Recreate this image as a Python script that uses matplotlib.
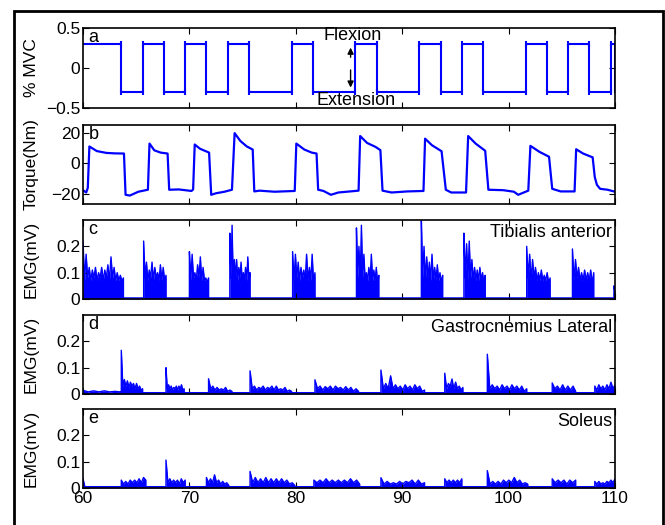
import numpy as np
import matplotlib
matplotlib.use("Agg")
import matplotlib.pyplot as plt
from matplotlib.patches import Rectangle

plt.rcParams['font.family'] = ['Liberation Sans', 'DejaVu Sans']

# --- target (% MVC): switching times, starts at +0.3 ---
target_level = 0.3
target_switch = [63.6, 65.6, 67.6, 69.6, 71.6, 73.6, 75.6, 79.6, 81.6, 85.6,
                 87.6, 91.6, 93.6, 95.6, 97.6, 101.6, 103.6, 105.6, 107.6, 109.6]

# --- torque trace (vertices) ---
torque_t = [60.0, 60.3, 60.45, 60.6, 61.3, 62.2, 63.0, 63.85, 64.0, 64.4, 65.2, 66.1,
            66.25, 66.7, 67.3, 67.95, 68.1, 69.0, 70.2, 70.35, 70.5, 71.0, 71.85, 72.05,
            72.5, 73.3, 74.0, 74.25, 74.8, 75.4, 75.95, 76.1, 76.6, 78.0, 79.9, 80.05,
            80.8, 81.5, 81.95, 82.1, 82.6, 83.3, 84.0, 85.9, 86.05, 86.7, 87.5, 87.95,
            88.15, 89.0, 90.5, 92.0, 92.15, 92.8, 93.7, 94.1, 94.6, 96.0, 96.2, 96.9,
            97.8, 98.1, 99.5, 100.5, 100.9, 101.85, 102.05, 102.9, 103.8, 104.1, 104.9,
            106.2, 106.35, 107.0, 107.9, 108.1, 108.3, 108.6, 109.3, 110.0]
torque_v = [-17.5, -19, -16, 11, 8, 6.8, 6.5, 6.4, -20.5, -21, -18.5, -17.2,
            12.9, 8.5, 7.0, 6.4, -17.2, -17, -18, -17, 12.3, 9.5, 7, -20.5,
            -19.5, -18.5, -17.2, 19.7, 14.5, 11, 9.0, -18.3, -17.8, -18.5, -18, 12.9,
            9.0, 7.0, 6.4, -17.2, -18, -20.5, -19, -17.8, 17.8, 13.3, 10.7, 8.6,
            -17.8, -19, -18.3, -18, 16.1, 11.8, 7.9, -17.2, -19, -19, 17.8, 12.9,
            8.2, -17.2, -17.5, -18.5, -20.5, -17.8, 11.4, 7.5, 4.3, -16.6, -18.3,
            -18.3, 9.2, 6.4, 3.9, -9, -14, -16.6, -17.2, -18.5]

# --- EMG: tibialis anterior bursts (start, end) and spike heights (mV) ---
ta_rest = 0.004
ta_bursts = [(60.0, 63.8), (65.7, 67.8), (70.0, 71.8), (73.8, 75.7), (79.7, 81.8),
             (85.7, 87.8), (91.8, 93.8), (95.8, 97.8), (101.7, 103.9), (106.0, 108.0),
             (109.9, 110.0)]
ta_heights = [
    [0.22, 0.07, 0.17, 0.08, 0.12, 0.07, 0.11, 0.08, 0.12, 0.07, 0.10, 0.08, 0.12, 0.07,
     0.11, 0.08, 0.13, 0.07, 0.16, 0.08, 0.12, 0.07, 0.10, 0.07, 0.09, 0.07, 0.08],
    [0.22, 0.08, 0.14, 0.07, 0.11, 0.08, 0.14, 0.07, 0.12, 0.08, 0.10, 0.07, 0.13, 0.07,
     0.12, 0.07, 0.09],
    [0.18, 0.07, 0.17, 0.08, 0.10, 0.07, 0.13, 0.08, 0.16, 0.07, 0.12, 0.07, 0.08, 0.06, 0.08],
    [0.25, 0.08, 0.28, 0.07, 0.15, 0.08, 0.15, 0.07, 0.12, 0.08, 0.14, 0.07, 0.10, 0.07,
     0.12, 0.07, 0.16, 0.07, 0.10],
    [0.18, 0.07, 0.17, 0.08, 0.14, 0.07, 0.12, 0.08, 0.11, 0.07, 0.17, 0.07, 0.12, 0.07,
     0.17, 0.06, 0.10],
    [0.27, 0.08, 0.20, 0.07, 0.28, 0.08, 0.17, 0.07, 0.10, 0.07, 0.12, 0.07, 0.17, 0.07,
     0.11, 0.07, 0.12, 0.06, 0.09],
    [0.30, 0.08, 0.20, 0.07, 0.16, 0.08, 0.14, 0.07, 0.17, 0.07, 0.12, 0.07, 0.13, 0.07,
     0.10, 0.06, 0.09],
    [0.25, 0.08, 0.21, 0.07, 0.22, 0.08, 0.15, 0.07, 0.12, 0.07, 0.11, 0.07, 0.12, 0.07,
     0.10, 0.06, 0.09],
    [0.20, 0.08, 0.17, 0.07, 0.15, 0.08, 0.12, 0.07, 0.10, 0.07, 0.11, 0.07, 0.09, 0.07,
     0.10, 0.06, 0.08],
    [0.19, 0.07, 0.15, 0.08, 0.12, 0.07, 0.10, 0.07, 0.11, 0.07, 0.10, 0.07, 0.11, 0.06, 0.10],
    [0.05, 0.03],
]

# --- EMG: gastrocnemius lateral ---
gl_rest = 0.005
gl_bursts = [(60.0, 63.5), (63.6, 65.6), (67.8, 69.5), (71.8, 74.0), (75.7, 79.6),
             (81.8, 85.9), (88.0, 92.1), (94.0, 95.7), (98.0, 101.7), (104.1, 106.3),
             (108.1, 110.0)]
gl_heights = [
    [0.014, 0.008, 0.012, 0.008, 0.012, 0.008, 0.01, 0.008],
    [0.166, 0.03, 0.055, 0.03, 0.05, 0.025, 0.045, 0.03, 0.04, 0.02, 0.04, 0.02, 0.03, 0.015, 0.02],
    [0.10, 0.02, 0.035, 0.02, 0.03, 0.015, 0.025, 0.02, 0.03, 0.015, 0.03, 0.02, 0.035, 0.015, 0.02],
    [0.058, 0.02, 0.03, 0.015, 0.025, 0.015, 0.02, 0.015, 0.025, 0.01, 0.015, 0.01],
    [0.088, 0.02, 0.03, 0.015, 0.025, 0.02, 0.03, 0.015, 0.025, 0.02, 0.03, 0.015, 0.03, 0.015,
     0.02, 0.015, 0.025, 0.01, 0.015, 0.01],
    [0.054, 0.02, 0.03, 0.015, 0.028, 0.02, 0.03, 0.015, 0.03, 0.02, 0.025, 0.015, 0.028, 0.015,
     0.025, 0.01, 0.02, 0.01],
    [0.091, 0.02, 0.04, 0.02, 0.069, 0.02, 0.035, 0.02, 0.03, 0.015, 0.035, 0.02, 0.03, 0.015,
     0.035, 0.02, 0.03, 0.01, 0.015],
    [0.079, 0.02, 0.04, 0.03, 0.057, 0.02, 0.045, 0.02, 0.03, 0.015, 0.025],
    [0.151, 0.02, 0.035, 0.02, 0.03, 0.015, 0.035, 0.02, 0.03, 0.015, 0.035, 0.02, 0.03, 0.015,
     0.03, 0.01, 0.02],
    [0.042, 0.02, 0.03, 0.015, 0.035, 0.015, 0.03, 0.015, 0.03, 0.01],
    [0.03, 0.015, 0.035, 0.02, 0.03, 0.015, 0.035, 0.02, 0.045, 0.02, 0.035],
]

# --- EMG: soleus ---
so_rest = 0.005
so_bursts = [(60.0, 60.15), (63.6, 65.9), (67.8, 69.6), (71.6, 73.7), (75.7, 79.9),
             (81.7, 86.0), (88.0, 92.1), (94.0, 95.6), (98.0, 101.8), (104.1, 106.3),
             (108.1, 110.0)]
so_heights = [
    [0.035, 0.01],
    [0.03, 0.015, 0.025, 0.015, 0.03, 0.02, 0.03, 0.02, 0.035, 0.02, 0.04, 0.03],
    [0.106, 0.02, 0.035, 0.02, 0.03, 0.02, 0.03, 0.015, 0.035, 0.02, 0.03],
    [0.04, 0.02, 0.035, 0.02, 0.05, 0.02, 0.03, 0.015, 0.025, 0.015, 0.02, 0.01],
    [0.063, 0.02, 0.04, 0.02, 0.035, 0.02, 0.04, 0.02, 0.035, 0.02, 0.035, 0.02, 0.035, 0.02,
     0.03, 0.015, 0.02, 0.01],
    [0.03, 0.02, 0.03, 0.02, 0.035, 0.02, 0.03, 0.02, 0.03, 0.02, 0.03, 0.02, 0.035, 0.02,
     0.03, 0.015],
    [0.039, 0.015, 0.025, 0.015, 0.02, 0.015, 0.025, 0.015, 0.025, 0.02, 0.03, 0.015, 0.03,
     0.015, 0.02],
    [0.035, 0.02, 0.03, 0.02, 0.03, 0.02, 0.03, 0.02, 0.035],
    [0.066, 0.015, 0.025, 0.015, 0.025, 0.015, 0.03, 0.02, 0.03, 0.02, 0.04, 0.02, 0.03, 0.015,
     0.02, 0.015],
    [0.035, 0.02, 0.03, 0.02, 0.03, 0.015, 0.03, 0.02, 0.03],
    [0.025, 0.015, 0.025, 0.015, 0.02, 0.015, 0.025, 0.02, 0.03, 0.02, 0.035],
]

x_ticks = [60, 70, 80, 90, 100, 110]
blue = (0, 0, 1)


def emg_trace(bursts, heights, rest):
    xs, ys = [60.0], [rest]
    for (s, e), h in zip(bursts, heights):
        xs += [s] + list(np.linspace(s, e, len(h))) + [e]
        ys += [rest] + list(h) + [rest]
    xs.append(110.0)
    ys.append(rest)
    return np.array(xs), np.array(ys)


fig = plt.figure(figsize=(6.65, 5.25), dpi=100)
W, H = 665.0, 525.0
panels = [(28, 108), (125, 204), (220, 299), (315, 394), (409, 488)]
axes = []
for top, bot in panels:
    ax = fig.add_axes([83 / W, 1 - bot / H, (615 - 83) / W, (bot - top) / H])
    axes.append(ax)

for ax in axes:
    ax.set_xlim(60, 110)
    ax.set_xticks(x_ticks)
    ax.tick_params(direction='in', length=4, width=0.8, top=True, right=True,
                   labelsize=12.5, pad=2)
    for sp in ax.spines.values():
        sp.set_linewidth(1.2)
for ax in axes[:-1]:
    ax.set_xticklabels([])
axes[-1].set_xticklabels([str(t) for t in x_ticks])

# --- a: target ---
ax = axes[0]
tx = [60.0] + target_switch + [110.0]
levels = [target_level * (-1) ** i for i in range(len(tx))]
ax.step(tx, levels, where='post', color=blue, lw=1.5)
ax.plot(target_switch, [target_level] * len(target_switch), '|', color=blue, ms=5, mew=1.5)
ax.plot(target_switch, [-target_level] * len(target_switch), '|', color=blue, ms=5, mew=1.5)
ax.set_ylim(-0.5, 0.5)
ax.set_yticks([-0.5, 0, 0.5])
ax.set_yticklabels(['\u22120.5', '0', '0.5'])
ax.set_ylabel('% MVC', fontsize=12.5)
ax.text(85.3, 0.4, 'Flexion', ha='center', va='center', fontsize=13)
ax.text(85.7, -0.41, 'Extension', ha='center', va='center', fontsize=13)
ax.annotate('', xy=(85.15, 0.29), xytext=(85.15, 0.1),
            arrowprops=dict(arrowstyle='-|>', color='k', lw=1, mutation_scale=9))
ax.annotate('', xy=(85.15, -0.28), xytext=(85.15, 0.01),
            arrowprops=dict(arrowstyle='-|>', color='k', lw=1, mutation_scale=9))

# --- b: torque ---
ax = axes[1]
ax.plot(torque_t, torque_v, color=blue, lw=1.6)
ax.set_ylim(-26.5, 25)
ax.set_yticks([-20, 0, 20])
ax.set_ylabel('Torque(Nm)', fontsize=12.5)

# --- c, d, e: EMG ---
emg = [(axes[2], ta_bursts, ta_heights, ta_rest, 'Tibialis anterior'),
       (axes[3], gl_bursts, gl_heights, gl_rest, 'Gastrocnemius Lateral'),
       (axes[4], so_bursts, so_heights, so_rest, 'Soleus')]
for ax, bursts, heights, rest, name in emg:
    x, y = emg_trace(bursts, heights, rest)
    ax.fill_between(x, 0, y, color=blue, lw=0)
    ax.plot(x, y, color=blue, lw=1.0)
    ax.set_ylim(0, 0.3)
    ax.set_yticks([0, 0.1, 0.2])
    ax.set_yticklabels(['0', '0.1', '0.2'])
    ax.set_ylabel('EMG(mV)', fontsize=12.5)
    ax.text(0.995, 0.95, name, transform=ax.transAxes, ha='right', va='top', fontsize=13)

for ax in axes:
    ax.yaxis.set_label_coords(-0.083, 0.5)

for ax, letter in zip(axes, 'abcde'):
    ax.text(0.01, 0.985, letter, transform=ax.transAxes, ha='left', va='top', fontsize=13)

# outer frame
fig.add_artist(Rectangle((14 / W, -0.05), (663 - 14) / W, 1 - 11 / H + 0.05,
                         transform=fig.transFigure, fill=False, ec='k', lw=2, clip_on=False))

fig.savefig('out.png', dpi=100)
